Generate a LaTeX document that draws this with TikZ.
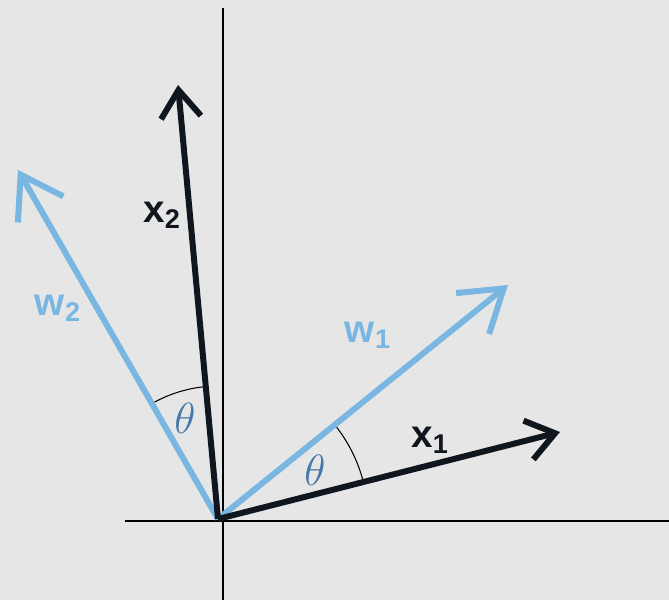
\documentclass[tikz,border=0pt]{standalone}
\usepackage{fontspec}
\setmainfont{Liberation Sans}
\usetikzlibrary{arrows.meta}
\definecolor{fond}{RGB}{230,230,230}
\definecolor{bleu}{RGB}{122,182,226}
\definecolor{bleutheta}{RGB}{70,120,170}
\definecolor{encre}{RGB}{16,22,30}
\tikzset{
  axe/.style={line width=1.6pt,black},
  vecx/.style={line width=3.4pt,encre,-{Straight Barb[length=0.55cm,width=0.8cm]}},
  vecw/.style={line width=3.4pt,bleu,-{Straight Barb[length=0.8cm,width=1.05cm]}},
  angle/.style={line width=0.6pt,black},
  etiq/.style={font=\fontsize{22}{26}\selectfont\bfseries,inner sep=1pt},
  theta/.style={font=\fontsize{24}{28}\selectfont,bleutheta}
}

\begin{document}
\begin{tikzpicture}
        % cadre et fond
        \useasboundingbox (-4.36,-1.62) rectangle (9.02,10.38);
        \fill[fond] (-4.36,-1.62) rectangle (9.02,10.38);

        % les axes
        \coordinate (O) at (0,0);
        \coordinate (ybas) at (0.10,-1.62);
        \coordinate (yhaut) at (0.10,10.22);
        \coordinate (xgauche) at (-1.86,-0.04);
        \coordinate (xdroite) at (9.02,-0.04);
        \draw[axe] (ybas) -- (yhaut);
        \draw[axe] (xgauche) -- (xdroite);

        % extrémités des vecteurs
        \coordinate (x1) at (6.84,1.74);
        \coordinate (w1) at (5.80,4.68);
        \coordinate (w2) at (-4.00,6.98);
        \coordinate (x2) at (-0.80,8.68);

        % les angles theta
        \draw[angle] (O) ++(14.3:3.0) arc[start angle=14.3,end angle=38.9,radius=3.0];
        \draw[angle] (O) ++(95.3:2.66) arc[start angle=95.3,end angle=119.8,radius=2.66];

        % les vecteurs
        \draw[vecw] (O) -- (w1);
        \draw[vecw] (O) -- (w2);
        \draw[vecx] (O) -- (x1);
        \draw[vecx] (O) -- (x2);

        % étiquettes
        \node[etiq,encre] (lx1) at (4.24,1.58) {x\textsubscript{1}};
        \node[etiq,encre] (lx2) at (-1.12,6.08) {x\textsubscript{2}};
        \node[etiq,bleu] (lw1) at (3.00,3.68) {w\textsubscript{1}};
        \node[etiq,bleu] (lw2) at (-3.20,4.22) {w\textsubscript{2}};
        \node[theta] (t1) at (1.94,0.98) {$\theta$};
        \node[theta] (t2) at (-0.66,2.02) {$\theta$};
\end{tikzpicture}
\end{document}
